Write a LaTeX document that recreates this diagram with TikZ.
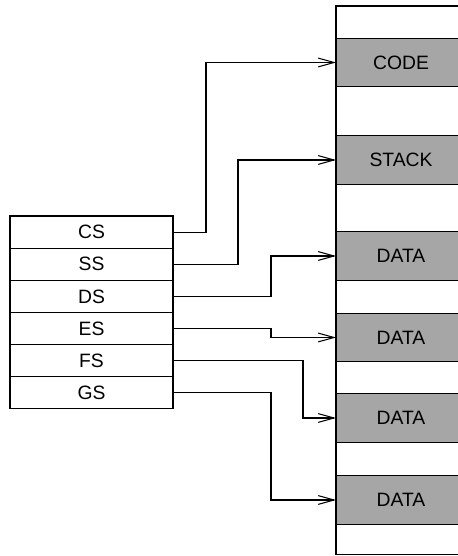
\documentclass[tikz,border=0pt]{standalone}
\usepackage{fontspec}
\setmainfont{Liberation Sans}
\usetikzlibrary{positioning, arrows.meta}

\begin{document}
\begin{tikzpicture}[
    font=\fontsize{11}{13}\selectfont,
    reg/.style={draw, line width=0.6pt, minimum width=3.26cm, minimum height=0.643cm, inner sep=0pt, outer sep=0pt},
    seg/.style={draw, line width=0.8pt, fill=black!35, minimum width=2.6cm, minimum height=0.97cm, inner sep=0pt, outer sep=0pt},
    link/.style={-{Straight Barb[length=9pt,width=5pt]}, line width=0.6pt}]
  \useasboundingbox (0,0) rectangle (9.16,11.12);
  \clip (0,0) rectangle (9.16,11.12);

  % memory
  \draw[line width=0.8pt] (9.4,11.0) -- (6.72,11.0) -- (6.72,0.03) -- (9.4,0.03);
  \node[seg] (code) at (8.02,9.87) {CODE};
  \node[seg] (stack) at (8.02,7.92) {STACK};
  \node[seg] (data1) at (8.02,6.0) {DATA};
  \node[seg] (data2) at (8.02,4.37) {DATA};
  \node[seg] (data3) at (8.02,2.76) {DATA};
  \node[seg] (data4) at (8.02,1.12) {DATA};

  % segment registers
  \node[reg] (cs) at (1.83,6.478) {CS};
  \node[reg, below=0pt of cs] (ss) {SS};
  \node[reg, below=0pt of ss] (ds) {DS};
  \node[reg, below=0pt of ds] (es) {ES};
  \node[reg, below=0pt of es] (fs) {FS};
  \node[reg, below=0pt of fs] (gs) {GS};

  \draw[link] (cs.east) -- ++(0.66,0) |- (code.west);
  \draw[link] (ss.east) -- ++(1.30,0) |- (stack.west);
  \draw[link] (ds.east) -- ++(1.96,0) |- (data1.west);
  \draw[link] (es.east) -- ++(1.96,0) |- (data2.west);
  \draw[link] (fs.east) -- ++(2.60,0) |- (data3.west);
  \draw[link] (gs.east) -- ++(1.96,0) |- (data4.west);
\end{tikzpicture}
\end{document}
